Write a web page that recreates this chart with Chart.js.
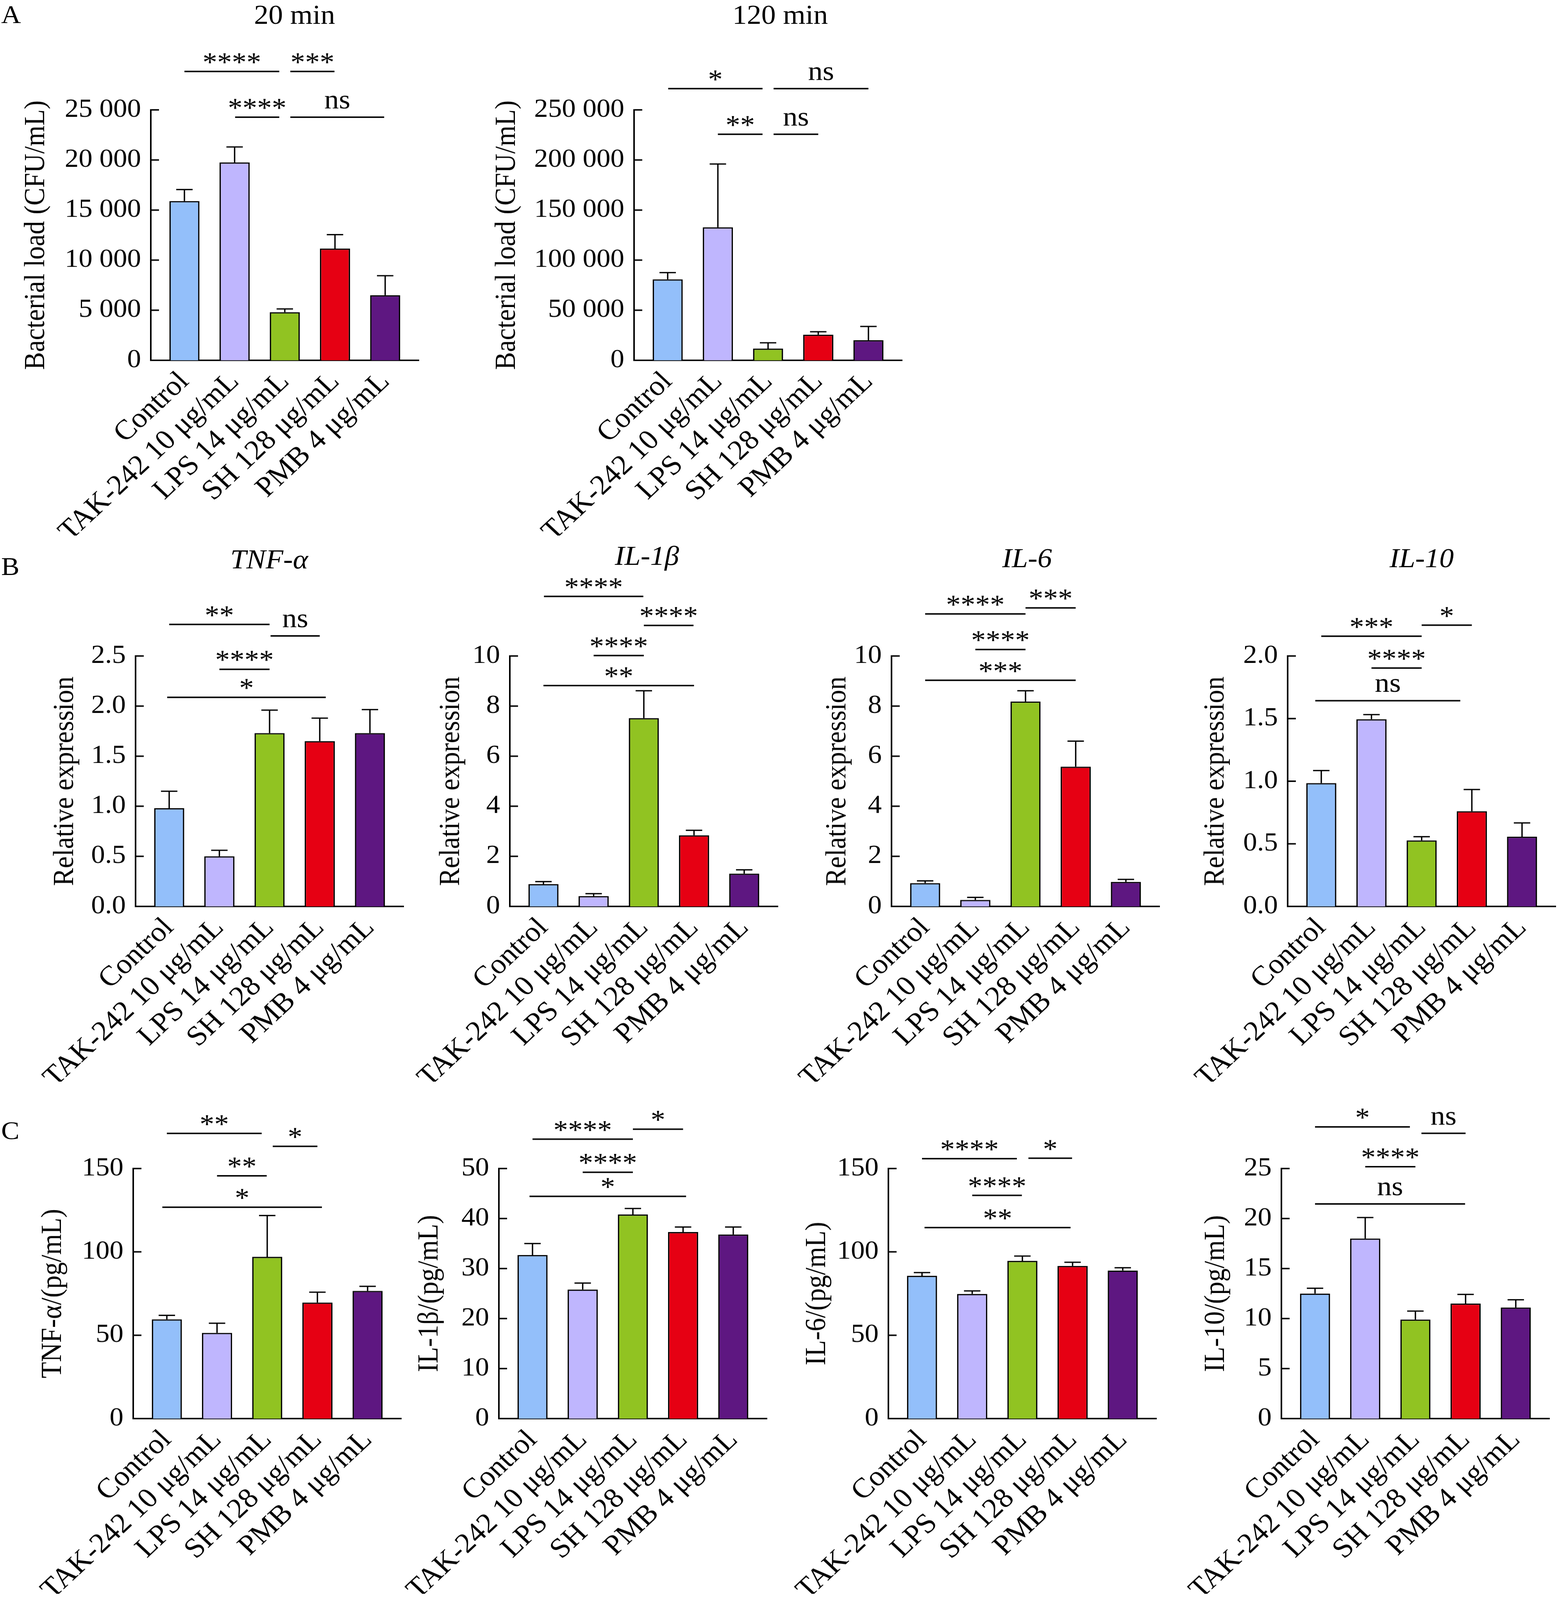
<!DOCTYPE html>
<html>
<head>
<meta charset="utf-8">
<script src="https://cdn.jsdelivr.net/npm/chart.js@4.4.1/dist/chart.umd.min.js"></script>
<style>
  html, body { margin: 0; padding: 0; background: #fff; overflow: hidden; }
  #fig { width: 3988px; height: 4383px; position: relative; transform-origin: 0 0; font-family: 'Liberation Serif', 'Times New Roman', serif; }
  canvas { position: absolute; }
  .txt { position: absolute; line-height: 1; white-space: nowrap; color: #000; transform: translate(-50%, -50%); }
  .letter { position: absolute; line-height: 1; font-size: 70px; color: #000; transform: translateY(-50%); }
  .title { font-size: 74px; }
  .it { font-style: italic; }
</style>
</head>
<body>
<div id="fig">
  <div class="letter" style="left:3px; top:40px;">A</div>
  <div class="letter" style="left:3px; top:1552px;">B</div>
  <div class="letter" style="left:3px; top:3097px;">C</div>
  <div class="txt title" style="left:754px; top:40px;">20 min</div>
  <div class="txt title" style="left:1997px; top:40px;">120 min</div>
  <div class="txt title it" style="left:689px; top:1532px;">TNF-α</div>
  <div class="txt title it" style="left:1656px; top:1522px;">IL-1β</div>
  <div class="txt title it" style="left:2629px; top:1529px;">IL-6</div>
  <div class="txt title it" style="left:3639px; top:1529px;">IL-10</div>
</div>

<script>
const categories = ['Control', 'TAK-242 10 μg/mL', 'LPS 14 μg/mL', 'SH 128 μg/mL', 'PMB 4 μg/mL'];
const barColors = ['#93bffa', '#bfb6fe', '#91c322', '#e60013', '#5e1781'];

// A: bacterial load, 20 min and 120 min
const load20Mean = [15900, 19750, 4800, 11150, 6500];
const load20Err = [1150, 1550, 330, 1400, 1950];
const load20Ticks = ['0', '5 000', '10 000', '15 000', '20 000', '25 000'];
const load20Sig = [[0, 1.89, 28840, '****'], [2.11, 2.99, 28840, '***'], [1.01, 1.89, 24270, '****'], [2.11, 3.98, 24270, 'ns']];

const load120Mean = [80800, 132700, 11700, 25600, 20000];
const load120Err = [6800, 63300, 5800, 2900, 13800];
const load120Ticks = ['0', '50 000', '100 000', '150 000', '200 000', '250 000'];
const load120Sig = [[0.01, 1.89, 271200, '*'], [2.11, 4.0, 271200, 'ns'], [1.0, 1.89, 225700, '**'], [2.11, 3.0, 225700, 'ns']];

// B: relative mRNA expression
const tnfRelMean = [0.98, 0.50, 1.73, 1.65, 1.73];
const tnfRelErr = [0.17, 0.06, 0.23, 0.23, 0.235];
const tnfRelTicks = ['0.0', '0.5', '1.0', '1.5', '2.0', '2.5'];
const tnfRelSig = [[0, 2.0, 2.815, '**'], [2.02, 3.0, 2.70, 'ns'], [1.0, 2.0, 2.367, '****'], [-0.04, 3.12, 2.087, '*']];

const il1RelMean = [0.89, 0.41, 7.52, 2.84, 1.31];
const il1RelErr = [0.10, 0.10, 1.09, 0.20, 0.15];
const il1RelTicks = ['0', '2', '4', '6', '8', '10'];
const il1RelSig = [[0.01, 1.99, 12.38, '****'], [2.0, 2.99, 11.22, '****'], [1.0, 2.0, 10.02, '****'], [0, 3.0, 8.82, '**']];

const il6RelMean = [0.93, 0.26, 8.18, 5.58, 0.98];
const il6RelErr = [0.09, 0.10, 0.43, 1.02, 0.10];
const il6RelTicks = ['0', '2', '4', '6', '8', '10'];
const il6RelSig = [[0, 2.0, 11.68, '****'], [2.0, 3.0, 11.92, '***'], [1.0, 2.0, 10.26, '****'], [0, 3.0, 9.03, '***']];

const il10RelMean = [0.985, 1.495, 0.527, 0.76, 0.557];
const il10RelErr = [0.10, 0.037, 0.03, 0.174, 0.11];
const il10RelTicks = ['0.0', '0.5', '1.0', '1.5', '2.0'];
const il10RelSig = [[0, 2.0, 2.158, '***'], [2.0, 3.0, 2.246, '*'], [1.0, 2.0, 1.904, '****'], [-0.12, 2.77, 1.643, 'ns']];

// C: cytokine concentrations (pg/mL)
const tnfConcMean = [59.5, 51.4, 97.0, 69.6, 76.6];
const tnfConcErr = [2.4, 5.8, 24.8, 6.2, 2.7];
const tnfConcTicks = ['0', '50', '100', '150'];
const tnfConcSig = [[0, 1.89, 171.1, '**'], [2.11, 3.0, 163.3, '*'], [1.0, 1.99, 145.6, '**'], [-0.09, 3.09, 126.8, '*']];

const il1ConcMean = [32.7, 25.8, 40.8, 37.3, 36.8];
const il1ConcErr = [2.3, 1.3, 1.2, 1.0, 1.5];
const il1ConcTicks = ['0', '10', '20', '30', '40', '50'];
const il1ConcSig = [[0, 2.0, 55.87, '****'], [2.0, 3.0, 57.86, '*'], [1.0, 2.0, 49.25, '****'], [-0.06, 3.06, 44.44, '*']];

const il6ConcMean = [85.6, 74.8, 94.6, 91.6, 88.8];
const il6ConcErr = [2.0, 1.8, 2.9, 2.2, 1.7];
const il6ConcTicks = ['0', '50', '100', '150'];
const il6ConcSig = [[0, 1.89, 155.9, '****'], [2.12, 2.99, 156.2, '*'], [1.0, 1.99, 133.9, '****'], [0.05, 2.96, 114.6, '**']];

const il10ConcMean = [12.5, 18.0, 9.9, 11.5, 11.1];
const il10ConcErr = [0.53, 2.1, 0.85, 0.92, 0.78];
const il10ConcTicks = ['0', '5', '10', '15', '20', '25'];
const il10ConcSig = [[0, 1.89, 29.16, '*'], [2.12, 3.0, 28.52, 'ns'], [1.0, 2.0, 25.18, '****'], [0, 2.99, 21.46, 'ns']];

// layout: L = y axis x, T = top tick y, H = plot height, yW = y scale box width
const panels = [
  { mean: load20Mean, err: load20Err, ticks: load20Ticks, sig: load20Sig, yTitle: 'Bacterial load (CFU/mL)', L: 386, T: 301, H: 686, yW: 336 },
  { mean: load120Mean, err: load120Err, ticks: load120Ticks, sig: load120Sig, yTitle: 'Bacterial load (CFU/mL)', L: 1623, T: 301, H: 686, yW: 368 },
  { mean: tnfRelMean, err: tnfRelErr, ticks: tnfRelTicks, sig: tnfRelSig, yTitle: 'Relative expression', L: 347, T: 1797, H: 686, yW: 223 },
  { mean: il1RelMean, err: il1RelErr, ticks: il1RelTicks, sig: il1RelSig, yTitle: 'Relative expression', L: 1305, T: 1797, H: 686, yW: 193 },
  { mean: il6RelMean, err: il6RelErr, ticks: il6RelTicks, sig: il6RelSig, yTitle: 'Relative expression', L: 2282, T: 1797, H: 686, yW: 181 },
  { mean: il10RelMean, err: il10RelErr, ticks: il10RelTicks, sig: il10RelSig, yTitle: 'Relative expression', L: 3296, T: 1797, H: 686, yW: 227 },
  { mean: tnfConcMean, err: tnfConcErr, ticks: tnfConcTicks, sig: tnfConcSig, yTitle: 'TNF-α/(pg/mL)', L: 341, T: 3201, H: 685, yW: 248 },
  { mean: il1ConcMean, err: il1ConcErr, ticks: il1ConcTicks, sig: il1ConcSig, yTitle: 'IL-1β/(pg/mL)', L: 1277, T: 3201, H: 685, yW: 220 },
  { mean: il6ConcMean, err: il6ConcErr, ticks: il6ConcTicks, sig: il6ConcSig, yTitle: 'IL-6/(pg/mL)', L: 2274, T: 3201, H: 685, yW: 225 },
  { mean: il10ConcMean, err: il10ConcErr, ticks: il10ConcTicks, sig: il10ConcSig, yTitle: 'IL-10/(pg/mL)', L: 3280, T: 3201, H: 685, yW: 210 }
];

const W = 686, padL = 60, padR = 60, padTop = 260, xH = 480;

// fit the whole figure into the visible viewport
const fig = document.getElementById('fig');
const sx = Math.min(1, window.innerWidth / 3988);
const sy = Math.min(1, window.innerHeight / 4383);
fig.style.transform = 'scale(' + sx + ',' + sy + ')';

Chart.defaults.font.family = "'Liberation Serif', 'Times New Roman', serif";
Chart.defaults.color = '#000';

// inward y ticks, error bars, significance lines
const decorPlugin = {
  id: 'decor',
  afterDatasetsDraw(chart) {
    const { ctx, chartArea, scales: { x, y } } = chart;
    const ds = chart.data.datasets[0];
    const meta = chart.getDatasetMeta(0);
    ctx.save();
    ctx.strokeStyle = '#000';
    ctx.fillStyle = '#000';
    ctx.lineCap = 'butt';

    ctx.lineWidth = 4;
    ctx.beginPath();
    y.ticks.forEach(t => {
      const py = y.getPixelForValue(t.value);
      ctx.moveTo(chartArea.left, py);
      ctx.lineTo(chartArea.left + 21, py);
    });
    ctx.stroke();

    ctx.lineWidth = 3.5;
    ctx.beginPath();
    meta.data.forEach((bar, i) => {
      const top = y.getPixelForValue(ds.data[i].y + ds.errors[i]);
      ctx.moveTo(bar.x, bar.y);
      ctx.lineTo(bar.x, top);
      ctx.moveTo(bar.x - 21, top);
      ctx.lineTo(bar.x + 21, top);
    });
    ctx.stroke();

    ctx.lineWidth = 4;
    ctx.font = "75px 'Liberation Serif'";
    ctx.textAlign = 'center';
    ctx.textBaseline = 'alphabetic';
    ds.sigMarks.forEach(([a, b, level, label]) => {
      const x1 = x.getPixelForValue(a), x2 = x.getPixelForValue(b);
      const py = y.getPixelForValue(level);
      ctx.beginPath();
      ctx.moveTo(x1, py);
      ctx.lineTo(x2, py);
      ctx.stroke();
      ctx.fillText(label, (x1 + x2) / 2, py - (label === 'ns' ? 24 : 1));
    });
    ctx.restore();
  }
};

panels.forEach(p => {
  const cv = document.createElement('canvas');
  const cw = padL + p.yW + W + padR;
  const ch = padTop + p.H + xH;
  cv.width = cw;
  cv.height = ch;
  cv.style.left = (p.L - p.yW - padL) + 'px';
  cv.style.top = (p.T - padTop) + 'px';
  cv.style.width = cw + 'px';
  cv.style.height = ch + 'px';
  fig.appendChild(cv);

  const tickVals = p.ticks.map(s => parseFloat(s.replace(/\s/g, '')));

  new Chart(cv, {
    type: 'bar',
    data: {
      datasets: [{
        data: p.mean.map((v, i) => ({ x: i, y: v })),
        errors: p.err,
        sigMarks: p.sig,
        backgroundColor: barColors,
        borderColor: '#000',
        borderWidth: 3.5,
        barPercentage: 0.6,
        categoryPercentage: 1
      }]
    },
    options: {
      responsive: false,
      animation: false,
      devicePixelRatio: 1,
      layout: { padding: { left: padL, right: padR, top: padTop, bottom: 0 } },
      plugins: { legend: { display: false }, tooltip: { enabled: false } },
      scales: {
        x: {
          type: 'linear',
          offset: false,
          min: -0.67,
          max: 4.67,
          afterBuildTicks: s => { s.ticks = categories.map((c, i) => ({ value: i })); },
          afterFit: s => { s.height = xH; },
          ticks: {
            autoSkip: false, minRotation: 45, maxRotation: 45, padding: 14,
            font: { size: 77 }, color: '#000',
            callback: (v, i) => categories[i]
          },
          grid: { display: false, drawTicks: false, offset: false },
          border: { display: true, color: '#000', width: 4 }
        },
        y: {
          min: 0,
          max: tickVals[tickVals.length - 1],
          afterBuildTicks: s => { s.ticks = tickVals.map(v => ({ value: v })); },
          afterFit: s => { s.width = p.yW; },
          ticks: { font: { size: 71 }, color: '#000', padding: 25, callback: (v, i) => p.ticks[i] },
          grid: { display: false, drawTicks: false },
          border: { display: true, color: '#000', width: 4 },
          title: { display: true, text: p.yTitle, font: { size: 73 }, color: '#000', padding: 0 }
        }
      }
    },
    plugins: [decorPlugin]
  });
});
</script>
</body>
</html>
